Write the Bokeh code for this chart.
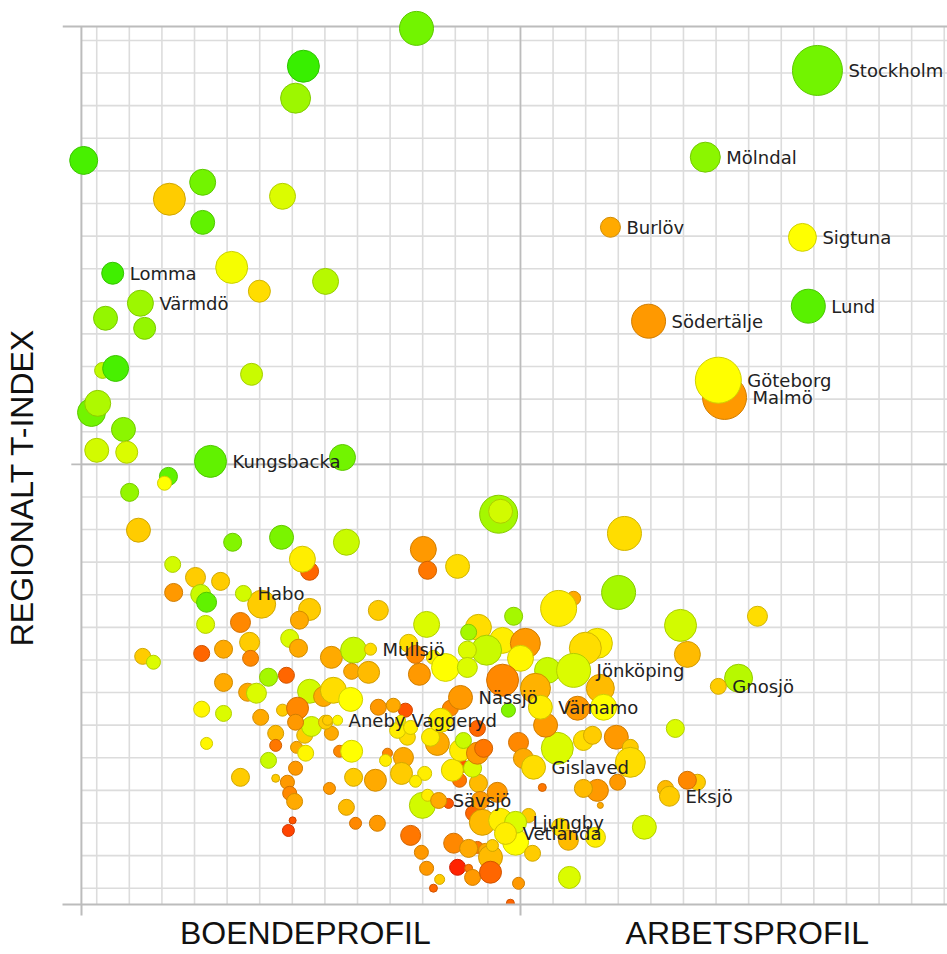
import math
import colorsys
from bokeh.plotting import figure
from bokeh.models import ColumnDataSource, Range1d, FixedTicker, LinearColorMapper
from bokeh.core.properties import value
from bokeh.embed import file_html
from bokeh.resources import INLINE

# ---------------- data ----------------
# x: boendeprofil (-) ... arbetsprofil (+), y: regionalt T-index, pop: bubble weight, hue: colour index (0 red .. 120 green)
x_vals = [-3.19, -6.66, -6.90, -13.40, -9.75, -10.77, -7.30, -9.75, -8.86, -8.01, -5.98, -12.73, -11.53,
          -12.82, -12.42, -8.25, -13.16, -12.97, -12.18, -13.00, -12.08, -5.46, -10.80, -10.92, -11.99,
          -0.67, -0.61, -11.72, -8.83, -7.33, -5.34, -6.47, -6.69, -10.67, -9.97, -9.20, -10.64, -9.81,
          -9.63, -7.94, -6.47, -9.66, -8.59, -6.78, -8.31, -9.11, -9.78, -11.59, -11.26, -8.28, -7.08,
          -6.81, -5.80, -5.12, -7.18, -7.73, -9.11, -8.37, -8.10, -6.47, -6.04, -5.74, -5.18, -9.78,
          -9.11, -7.97, -7.30, -6.84, -5.21, -9.63, -8.59, -7.51, -7.51, -7.73, -7.51, -6.90, -7.15,
          -7.08, -6.93, -6.99, -7.12, -6.87, -6.62, -6.59, -6.41, -5.80, -5.55, -5.18, -5.12, -5.86,
          -5.34, -5.06, -5.98, -6.90, -4.45, -4.08, -4.14, -3.59, -3.65, -2.94, -3.22, -3.47, -3.77,
          -4.39, -3.37, -3.04, -2.88, -2.48, -2.67, -3.01, -2.21, -2.85, -2.05, -1.93, -1.59, -1.47,
          -1.32, -1.59, -1.07, -0.92, -0.92, -0.86, -0.06, -0.31, -1.44, -1.17, -0.61, -0.15, 0.37,
          0.25, 1.23, 1.47, 1.50, -1.87, -1.75, -1.29, -1.23, -0.71, -2.09, -1.47, -1.84, -1.32,
          -1.13, -1.75, -1.32, -2.55, -2.76, -0.06, 0.09, 1.13, 0.67, -2.98, -2.85, -1.93, -4.36,
          -2.88, -0.21, 1.63, 1.17, -1.29, -1.59, -0.55, 0.15, -1.04, -1.63, 0.00, -3.43, -3.22,
          -2.67, -2.30, -1.63, -4.66, -3.10, -0.55, 0.83, 2.36, 1.99, 0.46, 2.45, 2.55, 1.75, -0.37,
          0.77, -2.15, -4.36, -3.53, -3.90, -2.45, -3.37, -5.92, 1.93, 2.94, 2.21, 3.37, 3.37, 2.98,
          2.36, 2.45, 1.93, 4.45, 5.43, 5.12, 3.80, 2.30, 4.75, 4.91, 5.12, 7.27, 6.69, 3.01, 3.19]
y_vals = [13.37, 12.21, 11.23, 9.32, 8.65, 8.13, 8.22, 7.42, 6.04, 5.31, 5.61, 4.48, 4.17,
          2.88, 2.94, 2.76, 1.59, 1.87, 1.07, 0.43, 0.37, 0.21, -0.37, -0.58, -0.86,
          -1.53, -1.44, -2.02, -2.39, -2.24, -2.39, -3.28, -2.91, -3.07, -3.47, -3.59, -3.93, -3.99,
          -4.23, -4.29, -4.45, -4.91, -4.85, -4.78, -5.46, -5.67, -5.80, -5.89, -6.07, -5.95, -5.34,
          -5.64, -5.92, -5.70, -6.47, -6.53, -6.69, -6.99, -7.02, -6.96, -7.12, -6.93, -6.35, -7.51,
          -7.64, -7.76, -7.54, -7.48, -7.21, -8.56, -9.60, -8.25, -8.62, -9.08, -9.63, -9.32, -9.75,
          -10.09, -10.34, -10.92, -11.23, -8.68, -8.31, -8.86, -8.04, -8.25, -8.80, -8.80, -9.60, -9.94,
          -10.52, -11.01, -7.91, -7.91, -9.69, -8.86, -9.08, -8.99, -9.48, -9.48, -9.72, -8.37, -8.16,
          -11.01, -11.38, -11.90, -12.39, -12.73, -13.00, -10.46, -10.40, -10.15, -11.62, -12.36, -12.39, -12.67,
          -11.75, -11.78, -11.84, -12.05, -12.51, -11.69, -12.85, -13.46, -10.70, -10.98, -10.92, -11.59, -11.93,
          -10.77, -11.13, -11.53, -12.67, -9.69, -9.26, -9.78, -10.31, -10.06, -9.38, -9.32, -8.77, -8.86,
          -8.71, -8.47, -8.10, -8.56, -8.37, -8.53, -9.02, -8.71, -9.91, -2.61, -3.25, -3.13, -4.48,
          -4.91, -4.66, -4.11, -4.42, -5.00, -5.15, -5.40, -5.49, -5.70, -5.70, -5.95, -5.49, -5.83,
          -5.92, -6.23, -6.23, -6.38, -6.44, -6.62, -6.32, -5.49, -5.64, -6.87, -6.87, -7.45, -7.48, -7.54,
          -8.00, -7.48, -7.45, -7.54, -7.39, -7.85, -8.07, -7.85, -8.47, -8.37, -8.31, -8.68, -9.14, -9.75,
          -10.00, -10.46, -9.94, -9.94, -9.75, -9.69, -11.13, -11.44, -8.10, -4.94, -5.83, -4.66, -6.56, -3.93, -2.12]
pop_vals = [416, 369, 324, 282, 243, 369, 243, 207, 369, 174, 243, 207, 174,
            92, 243, 174, 282, 243, 207, 207, 174, 243, 117, 71, 117,
            520, 207, 207, 117, 207, 243, 117, 243, 92, 144, 117, 117, 144,
            144, 282, 174, 117, 144, 117, 144, 117, 92, 92, 71, 92, 117,
            117, 174, 243, 92, 117, 117, 117, 144, 207, 144, 243, 92, 92,
            92, 92, 52, 174, 207, 52, 117, 92, 52, 92, 23, 71, 71,
            71, 92, 18, 52, 52, 92, 92, 144, 71, 52, 174, 117, 52,
            92, 52, 71, 92, 174, 36, 52, 144, 174, 71, 52, 92, 92,
            92, 144, 71, 71, 36, 23, 243, 36, 52, 144, 92, 23, 92,
            52, 117, 71, 207, 174, 52, 52, 23, 92, 243, 207, 243, 92,
            71, 117, 144, 174, 71, 52, 117, 117, 144, 174, 117, 174, 174,
            117, 92, 92, 207, 117, 144, 144, 369, 23, 243, 117, 207, 144,
            243, 117, 71, 467, 243, 92, 243, 324, 324, 117, 243, 117, 117,
            71, 282, 144, 174, 174, 369, 243, 324, 369, 324, 282, 243, 207, 71,
            207, 92, 92, 71, 71, 207, 71, 36, 144, 207, 117, 92, 324, 92,
            174, 13, 117, 92, 92, 117, 207, 144, 117, 369, 243, 144, 282, 416, 416]
hue_vals = [92, 106, 82, 102, 92, 48, 68, 96, 62, 52, 76, 84, 84,
            74, 102, 72, 92, 78, 86, 70, 68, 92, 96, 60, 84,
            80, 70, 48, 88, 90, 72, 24, 56, 70, 48, 48, 36, 72,
            96, 48, 48, 68, 32, 40, 48, 40, 24, 48, 68, 32, 68,
            40, 40, 72, 24, 80, 40, 40, 68, 70, 40, 52, 40, 58,
            68, 40, 48, 32, 60, 58, 48, 44, 28, 72, 48, 36, 36,
            32, 40, 20, 16, 40, 48, 58, 68, 40, 32, 60, 48, 36,
            44, 32, 48, 36, 40, 32, 56, 40, 48, 56, 56, 52, 56,
            36, 28, 36, 36, 48, 24, 70, 20, 56, 32, 8, 28, 36,
            28, 40, 40, 44, 24, 48, 36, 24, 24, 44, 56, 60, 48,
            48, 52, 44, 68, 28, 20, 44, 36, 36, 56, 68, 56, 36,
            28, 72, 24, 40, 56, 32, 40, 68, 28, 36, 28, 52, 48,
            68, 80, 40, 56, 52, 80, 56, 36, 72, 68, 58, 52, 32,
            56, 60, 68, 44, 36, 32, 72, 56, 52, 42, 44, 60, 36, 88,
            36, 32, 36, 20, 40, 56, 56, 48, 52, 36, 48, 48, 52, 36,
            36, 40, 44, 44, 48, 32, 68, 56, 68, 70, 44, 52, 76, 80, 52]

# labelled municipalities
lab_names = ["Lomma", "Värmdö", "Kungsbacka", "Stockholm", "Mölndal", "Burlöv", "Sigtuna", "Lund",
             "Södertälje", "Malmö", "Göteborg", "Habo", "Mullsjö", "Jönköping", "Gnosjö", "Nässjö",
             "Värnamo", "Aneby", "Vaggeryd", "Gislaved", "Sävsjö", "Ljungby", "Vetlanda", "Eksjö"]
lab_x = [-12.51, -11.66, -9.51, 9.11, 5.67, 2.76, 8.65, 8.83, 3.93, 6.26, 6.07, -8.50, -4.60, 1.63,
         6.07, -1.84, 0.61, -5.61, -3.68, 0.40, -2.51, -0.15, -0.46, 4.57]
lab_y = [5.86, 4.94, 0.09, 12.08, 9.42, 7.27, 6.96, 4.85, 4.39, 2.05, 2.58, -3.96, -5.67, -6.32,
         -6.81, -7.15, -7.45, -7.85, -7.85, -9.29, -10.31, -10.98, -11.32, -10.18]
lab_pop = [174, 243, 369, 900, 324, 144, 282, 416, 416, 697, 762, 92, 52, 416,
           92, 207, 207, 36, 36, 207, 92, 174, 174, 144]
lab_hue = [104, 82, 96, 92, 86, 40, 60, 98, 36, 36, 60, 70, 52, 68,
           48, 36, 56, 58, 56, 52, 40, 68, 56, 48]

# axis titles and where they sit along each axis
x_title_pos = [-6.60, 6.96]
x_titles = ["BOENDEPROFIL", "ARBETSPROFIL"]
y_title_pos = -0.71
y_title = "REGIONALT T-INDEX"

# plot box (grid extent) in data units
X_MIN, X_MAX = -13.47, 13.10
Y_MIN, Y_BOX_TOP = -13.50, 13.43
X_FRAME_MIN, Y_FRAME_TOP = -14.05, 13.98   # frame reaches past the box so edge bubbles are not clipped
X_TICK_MID = -13.78                          # end of the short tick of the centre line
grid_ticks = list(range(-13, 14))

# ---------------- styling ----------------
def hsv_hex(h, s, v):
    r, g, b = colorsys.hsv_to_rgb(h / 360.0, s, v)
    return "#%02x%02x%02x" % (int(round(r * 255)), int(round(g * 255)), int(round(b * 255)))

fill_pal, line_pal = [], []
for h in range(121):
    v = 1.0 - 0.07 * max(0.0, h - 60) / 50.0
    fill_pal.append(hsv_hex(h, 1.0, v))
    line_pal.append(hsv_hex(h, 1.0, v * 0.82))
fill_map = LinearColorMapper(palette=fill_pal, low=0, high=121)
line_map = LinearColorMapper(palette=line_pal, low=0, high=121)

def diam(p):
    return math.sqrt(p) * 5.0 / 3.0

all_x = x_vals + lab_x
all_y = y_vals + lab_y
all_hue = hue_vals + lab_hue
all_d = [diam(v) for v in pop_vals + lab_pop]

src = ColumnDataSource(dict(x=all_x, y=all_y, hue=all_hue, d=all_d))
lsrc = ColumnDataSource(dict(x=lab_x, y=lab_y, name=lab_names,
                             dx=[diam(v) / 2 + 6 for v in lab_pop]))

p = figure(width=947, height=954, output_backend="svg", toolbar_location=None,
           x_range=Range1d(X_FRAME_MIN, X_MAX), y_range=Range1d(Y_MIN, Y_FRAME_TOP),
           min_border_left=62, min_border_right=0, min_border_top=8, min_border_bottom=50)
p.outline_line_color = None
p.background_fill_color = "white"
p.border_fill_color = "white"
p.xgrid.visible = False
p.ygrid.visible = False

gridc = "#dcdcdc"
axc = "#bcbcbc"
n = len(grid_ticks)
# grid lines limited to the box
p.segment(x0=[X_MIN] * n, y0=grid_ticks, x1=[X_MAX] * n, y1=grid_ticks, line_color=gridc, line_width=1.6)
p.segment(x0=grid_ticks, y0=[Y_MIN] * n, x1=grid_ticks, y1=[Y_BOX_TOP] * n, line_color=gridc, line_width=1.6)
# centre cross, left axis line, top edge (with their short outer ticks)
p.segment(x0=[0.0, X_TICK_MID, X_MIN, X_FRAME_MIN], y0=[Y_MIN, 0.0, Y_MIN, Y_BOX_TOP],
          x1=[0.0, X_MAX, X_MIN, X_MAX], y1=[Y_BOX_TOP, 0.0, Y_BOX_TOP, Y_BOX_TOP],
          line_color=axc, line_width=[1.6, 1.6, 2, 2])

xa = p.xaxis[0]
xa.ticker = FixedTicker(ticks=x_title_pos, minor_ticks=[X_MIN, 0.0])
xa.major_label_overrides = {x_title_pos[0]: x_titles[0], x_title_pos[1]: x_titles[1]}
xa.minor_tick_out = 11
xa.minor_tick_in = 0
xa.minor_tick_line_color = axc
xa.minor_tick_line_width = 2
xa.axis_line_color = axc
xa.axis_line_width = 2
xa.major_label_standoff = -1

ya = p.yaxis[0]
ya.ticker = FixedTicker(ticks=[y_title_pos], minor_ticks=[])
ya.major_label_overrides = {y_title_pos: y_title}
ya.major_label_orientation = "vertical"
ya.axis_line_color = None
ya.minor_tick_line_color = None
ya.major_label_standoff = 22

for ax in (xa, ya):
    ax.major_tick_in = 0
    ax.major_tick_out = 0
    ax.major_tick_line_color = None
    ax.major_label_text_font = "Liberation Sans"
    ax.major_label_text_font_size = "32px"
    ax.major_label_text_color = "#111111"

p.scatter("x", "y", size="d", source=src,
          fill_color={"field": "hue", "transform": fill_map},
          line_color={"field": "hue", "transform": line_map},
          line_width=1)

p.text("x", "y", text="name", x_offset="dx", source=lsrc,
       text_font=value("DejaVu Sans"), text_font_size=value("18px"),
       text_baseline="middle", text_align="left", text_color="#222222")

open("out.html", "w").write(file_html(p, INLINE))
